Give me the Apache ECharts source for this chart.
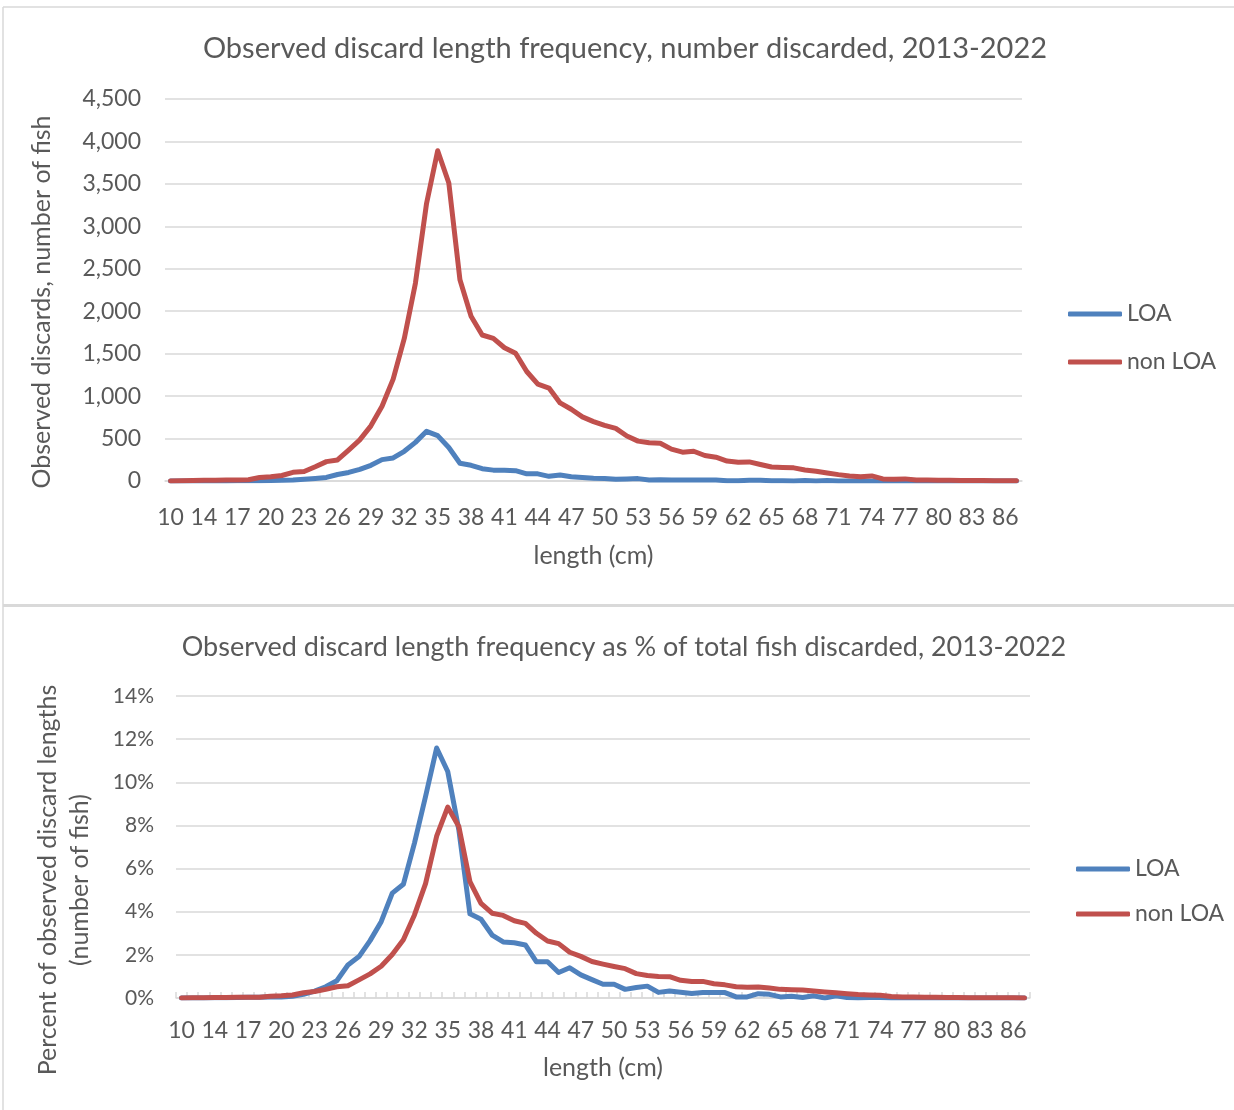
<!DOCTYPE html>
<html>
<head>
<meta charset="utf-8">
<title>Observed discard length frequency</title>
<script src="https://cdn.jsdelivr.net/npm/echarts@6/dist/echarts.min.js"></script>
<style>
html, body { margin: 0; padding: 0; background: #fff; }
#chart { width: 1234px; height: 1110px; }
</style>
</head>
<body>
<div id="chart"></div>
<script>
// length classes (cm) - 11 is not in the data
const lengths = [10, 12, 13, 14, 15, 16, 17, 18, 19, 20, 21, 22, 23, 24, 25, 26, 27, 28, 29, 30,
  31, 32, 33, 34, 35, 36, 37, 38, 39, 40, 41, 42, 43, 44, 45, 46, 47, 48, 49, 50,
  51, 52, 53, 54, 55, 56, 57, 58, 59, 60, 61, 62, 63, 64, 65, 66, 67, 68, 69, 70,
  71, 72, 73, 74, 75, 76, 77, 78, 79, 80, 81, 82, 83, 84, 85, 86, 87];

// number of fish discarded
const loaCount = [0, 0, 0, 0, 1, 1, 2, 3, 4, 5, 8, 12, 20, 30, 42, 77, 101, 137, 185, 252,
  272, 350, 455, 585, 535, 395, 209, 185, 145, 128, 126, 122, 84, 84, 55, 70, 50, 40, 32, 30,
  20, 25, 28, 13, 16, 13, 11, 13, 13, 13, 3, 3, 10, 8, 3, 4, 1, 5, 0, 5,
  1, 0, 1, 1, 0, 0, 0, 0, 0, 0, 0, 0, 0, 0, 0, 0, 0];
const nonLoaCount = [0, 2, 5, 8, 10, 12, 12, 15, 42, 50, 65, 102, 112, 168, 228, 248, 365, 485, 650, 880,
  1200, 1680, 2330, 3270, 3890, 3510, 2370, 1940, 1720, 1680, 1570, 1505, 1290, 1140, 1095, 920, 845, 755, 700, 655,
  620, 530, 470, 450, 445, 375, 340, 350, 300, 280, 235, 220, 225, 195, 165, 160, 155, 130, 115, 95,
  75, 60, 50, 60, 25, 20, 25, 12, 12, 10, 8, 6, 5, 5, 4, 3, 2];

// % of total fish discarded
const loaPct = [0, 0, 0, 0.01, 0.01, 0.02, 0.03, 0.04, 0.05, 0.05, 0.08, 0.17, 0.32, 0.52, 0.8, 1.53, 1.92, 2.66, 3.54, 4.86,
  5.27, 7.18, 9.34, 11.59, 10.5, 7.8, 3.9, 3.65, 2.92, 2.6, 2.56, 2.46, 1.68, 1.68, 1.18, 1.4, 1.07, 0.85, 0.64, 0.64,
  0.4, 0.49, 0.55, 0.26, 0.32, 0.27, 0.21, 0.25, 0.25, 0.25, 0.05, 0.05, 0.2, 0.17, 0.05, 0.08, 0.02, 0.1, 0, 0.1,
  0.02, 0, 0.02, 0.02, 0, 0, 0, 0, 0, 0, 0, 0, 0, 0, 0, 0, 0];
const nonLoaPct = [0, 0.01, 0.01, 0.02, 0.02, 0.03, 0.03, 0.04, 0.08, 0.1, 0.14, 0.24, 0.3, 0.4, 0.52, 0.57, 0.84, 1.12, 1.47, 2.02,
  2.7, 3.85, 5.3, 7.5, 8.85, 7.95, 5.4, 4.39, 3.93, 3.83, 3.58, 3.46, 3.0, 2.64, 2.52, 2.12, 1.93, 1.69, 1.57, 1.46,
  1.36, 1.13, 1.04, 1.0, 0.99, 0.82, 0.76, 0.77, 0.66, 0.61, 0.52, 0.5, 0.51, 0.46, 0.4, 0.38, 0.37, 0.32, 0.28, 0.24,
  0.2, 0.16, 0.14, 0.13, 0.07, 0.05, 0.05, 0.03, 0.03, 0.02, 0.02, 0.01, 0.01, 0.01, 0.01, 0.01, 0];

const seriesNames = ["LOA", "non LOA"];
const colors = ["#4F81BD", "#C0504D"];

const FONT = "Lato";
const TEXT = "#595959";
const GRIDLINE = "#d9d9d9";

const chart = echarts.init(document.getElementById("chart"));

function lineSeries(name, data, idx, color) {
  return {
    name: name,
    type: "line",
    xAxisIndex: idx,
    yAxisIndex: idx,
    data: data,
    symbol: "none",
    smooth: false,
    lineStyle: { color: color, width: 5, join: "round", cap: "round" },
    itemStyle: { color: color },
    emphasis: { disabled: true }
  };
}

function xAxisFor(idx, gap, labelMargin, withTicks) {
  return {
    type: "category",
    gridIndex: idx,
    data: lengths,
    boundaryGap: true,
    name: "length (cm)",
    nameLocation: "middle",
    nameGap: gap,
    nameTextStyle: { fontFamily: FONT, fontSize: 25, color: TEXT },
    axisLine: { lineStyle: { color: GRIDLINE, width: 1.5 } },
    axisTick: {
      show: withTicks,
      inside: true,
      interval: 0,
      length: 6,
      lineStyle: { color: GRIDLINE, width: 1.5 }
    },
    axisLabel: { interval: 2, fontFamily: FONT, fontSize: 23, color: TEXT, margin: labelMargin }
  };
}

const legendBase = {
  data: seriesNames,
  orient: "vertical",
  padding: 0,
  itemWidth: 54,
  itemHeight: 5,
  icon: "roundRect",
  textStyle: { fontFamily: FONT, fontSize: 23, color: TEXT, lineHeight: 26 }
};

const option = {
  animation: false,
  backgroundColor: "#fff",
  color: colors,
  title: [
    {
      text: "Observed discard length frequency, number discarded, 2013-2022",
      left: 620, top: 29, textAlign: "center",
      textStyle: { fontFamily: FONT, fontSize: 29, fontWeight: "normal", color: TEXT }
    },
    {
      text: "Observed discard length frequency as % of total fish discarded, 2013-2022",
      left: 619, top: 629, textAlign: "center",
      textStyle: { fontFamily: FONT, fontSize: 27, fontWeight: "normal", color: TEXT }
    }
  ],
  legend: [
    Object.assign({}, legendBase, { left: 1068, top: 301, itemGap: 22 }),
    Object.assign({}, legendBase, { left: 1076, top: 856, itemGap: 19 })
  ],
  grid: [
    { left: 165, right: 212, top: 99, height: 382 },
    { left: 176, right: 204, top: 696, height: 302 }
  ],
  xAxis: [xAxisFor(0, 62, 25, false), xAxisFor(1, 57, 21, true)],
  yAxis: [
    {
      type: "value", gridIndex: 0, min: 0, max: 4500, interval: 500,
      axisLine: { show: false }, axisTick: { show: false },
      splitLine: { lineStyle: { color: GRIDLINE, width: 1.5 } },
      axisLabel: {
        fontFamily: FONT, fontSize: 23, color: TEXT, margin: 24,
        formatter: v => v.toLocaleString("en-US")
      }
    },
    {
      type: "value", gridIndex: 1, min: 0, max: 14, interval: 2,
      axisLine: { show: false }, axisTick: { show: false },
      splitLine: { lineStyle: { color: GRIDLINE, width: 1.5 } },
      axisLabel: { fontFamily: FONT, fontSize: 21, color: TEXT, margin: 22, formatter: "{value}%" }
    }
  ],
  graphic: [
    // panel frames
    { type: "line", shape: { x1: 3, y1: 7, x2: 1234, y2: 7 }, style: { stroke: GRIDLINE, lineWidth: 1.5 } },
    { type: "line", shape: { x1: 3, y1: 7, x2: 3, y2: 1110 }, style: { stroke: GRIDLINE, lineWidth: 1.5 } },
    { type: "line", shape: { x1: 3, y1: 605.5, x2: 1234, y2: 605.5 }, style: { stroke: GRIDLINE, lineWidth: 3 } },
    // y axis titles
    {
      type: "text", x: 42, y: 302, rotation: Math.PI / 2,
      style: {
        text: "Observed discards, number of fish", fill: TEXT,
        font: "25px " + FONT, textAlign: "center", textVerticalAlign: "middle"
      }
    },
    {
      type: "text", x: 48, y: 880, rotation: Math.PI / 2,
      style: {
        text: "Percent of observed discard lengths", fill: TEXT,
        font: "25px " + FONT, textAlign: "center", textVerticalAlign: "middle"
      }
    },
    {
      type: "text", x: 80, y: 880, rotation: Math.PI / 2,
      style: {
        text: "(number of fish)", fill: TEXT,
        font: "25px " + FONT, textAlign: "center", textVerticalAlign: "middle"
      }
    }
  ],
  series: [
    lineSeries("LOA", loaCount, 0, colors[0]),
    lineSeries("non LOA", nonLoaCount, 0, colors[1]),
    lineSeries("LOA", loaPct, 1, colors[0]),
    lineSeries("non LOA", nonLoaPct, 1, colors[1])
  ]
};

chart.setOption(option);
</script>
</body>
</html>
